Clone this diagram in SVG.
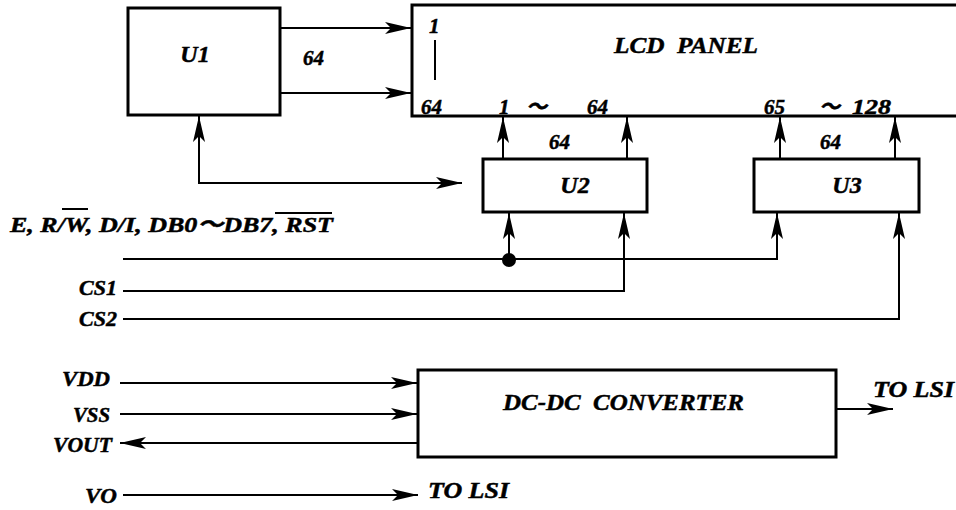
<svg xmlns="http://www.w3.org/2000/svg" width="956" height="510" viewBox="0 0 956 510">
<defs>
<style>
text{font-family:"Liberation Serif","Times New Roman","Noto Sans CJK SC",serif;font-weight:bold;font-style:italic;fill:#000;stroke:#000;stroke-width:0.5}
.lbl{font-size:22px}
.num{font-size:21px}
.big{font-size:24px}
.box{fill:#fff;stroke:#000;stroke-width:3}
.wire{fill:none;stroke:#000;stroke-width:2}
.arr{marker-end:url(#ah)}
.bi{marker-start:url(#ah);marker-end:url(#ah)}
</style>
<marker id="ah" viewBox="0 0 26 12" refX="26" refY="6" markerWidth="26" markerHeight="12" markerUnits="userSpaceOnUse" orient="auto-start-reverse">
<path d="M0,0 L26,6 L0,12 L6,6 Z" fill="#000"/>
</marker>
</defs>
<rect width="956" height="510" fill="#fff"/>

<g id="lcd-panel">
<rect class="box" x="412" y="5" width="560" height="111"/>
<text class="num" x="429" y="33">1</text>
<line x1="435" y1="40" x2="435" y2="80" stroke="#000" stroke-width="2"/>
<text class="num" x="421" y="114">64</text>
<text class="big" x="614" y="53" textLength="144" lengthAdjust="spacingAndGlyphs" xml:space="preserve">LCD  PANEL</text>
<text class="num" x="499" y="114">1</text>
<text class="num" x="526" y="114">～</text>
<text class="num" x="587" y="114">64</text>
<text class="num" x="764" y="114">65</text>
<text class="num" x="819" y="114">～</text>
<text class="num" x="852" y="114" textLength="39" lengthAdjust="spacingAndGlyphs">128</text>
</g>

<g id="u1">
<rect class="box" x="128" y="8" width="152" height="107"/>
<text class="big" x="195" y="62" text-anchor="middle">U1</text>
</g>

<g id="u2">
<rect class="box" x="483" y="159" width="164" height="53"/>
<text class="big" x="575" y="193" text-anchor="middle">U2</text>
</g>

<g id="u3">
<rect class="box" x="754" y="159" width="165" height="53"/>
<text class="big" x="847" y="193" text-anchor="middle">U3</text>
</g>

<g id="dcdc">
<rect class="box" x="418" y="370" width="418" height="87"/>
<text class="big" x="503" y="410" textLength="241" lengthAdjust="spacingAndGlyphs" xml:space="preserve">DC-DC  CONVERTER</text>
</g>

<g id="connectors">
<path class="wire arr" d="M280,28 H411"/>
<path class="wire arr" d="M280,93 H411"/>
<path class="wire bi" d="M199,116 V183 H462"/>
<path class="wire arr" d="M503,159 V117"/>
<path class="wire arr" d="M627,159 V117"/>
<path class="wire arr" d="M780,159 V117"/>
<path class="wire arr" d="M895,159 V117"/>
<path class="wire arr" d="M123,259 H777 V213"/>
<path class="wire arr" d="M509,259 V213"/>
<circle cx="509" cy="260" r="7" fill="#000"/>
<path class="wire arr" d="M123,291 H624 V213"/>
<path class="wire arr" d="M123,319 H899 V213"/>
<path class="wire arr" d="M120,383 H417"/>
<path class="wire arr" d="M120,414 H417"/>
<path class="wire arr" d="M418,443 H120"/>
<path class="wire arr" d="M836,409 H893"/>
<path class="wire arr" d="M123,495 H418"/>
</g>

<g id="labels">
<text class="num" x="303" y="65">64</text>
<text class="num" x="549" y="149">64</text>
<text class="num" x="820" y="149">64</text>
<text class="lbl" x="10" y="232" textLength="323" lengthAdjust="spacingAndGlyphs">E, R/W, D/I, DB0～DB7, RST</text>
<line x1="62" y1="209" x2="88" y2="209" stroke="#000" stroke-width="2"/>
<line x1="275" y1="213" x2="332" y2="213" stroke="#000" stroke-width="2"/>
<text class="lbl" x="117" y="295" text-anchor="end">CS1</text>
<text class="lbl" x="117" y="326" text-anchor="end">CS2</text>
<text class="lbl" x="62" y="386" textLength="48" lengthAdjust="spacingAndGlyphs">VDD</text>
<text class="lbl" x="73" y="422" textLength="37" lengthAdjust="spacingAndGlyphs">VSS</text>
<text class="lbl" x="53" y="452" textLength="59" lengthAdjust="spacingAndGlyphs">VOUT</text>
<text class="lbl" x="85" y="503" textLength="32" lengthAdjust="spacingAndGlyphs">VO</text>
<text class="big" x="873" y="397" textLength="81" lengthAdjust="spacingAndGlyphs">TO LSI</text>
<text class="big" x="428" y="498" textLength="81" lengthAdjust="spacingAndGlyphs">TO LSI</text>
</g>
</svg>
